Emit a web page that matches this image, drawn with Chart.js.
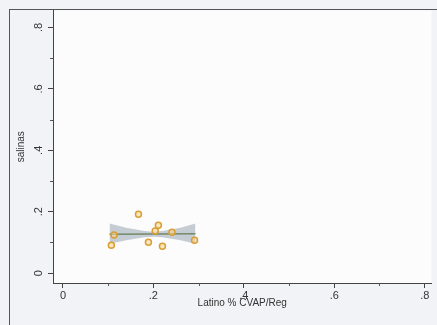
<!DOCTYPE html>
<html>
<head>
<meta charset="utf-8">
<script src="https://cdn.jsdelivr.net/npm/chart.js@4.4.1/dist/chart.umd.min.js"></script>
<style>
  html, body { margin: 0; padding: 0; background: #f2f3f6; }
  #wrap { position: relative; width: 437px; height: 325px; overflow: hidden; }
  #frame { position: absolute; left: 9px; top: 9px; width: 500px; height: 400px;
           border-left: 1px solid #555; border-top: 1px solid #555; }
  canvas { position: absolute; left: 0; top: 0; }
</style>
</head>
<body>
<div id="wrap">
  <div id="frame"></div>
  <canvas id="plot" width="437" height="325"></canvas>
</div>
<script>
// scatter points (Latino % CVAP/Reg vs salinas)
var pointsX = [0.107, 0.113, 0.167, 0.189, 0.204, 0.211, 0.220, 0.241, 0.291];
var pointsY = [0.091, 0.124, 0.192, 0.101, 0.137, 0.156, 0.088, 0.133, 0.107];

// fitted line
var fitX = [0.103, 0.293];
var fitY = [0.127, 0.128];

// confidence band
var bandX = [0.103, 0.14, 0.18, 0.20, 0.22, 0.26, 0.293];
var bandUpper = [0.162, 0.148, 0.137, 0.135, 0.137, 0.148, 0.162];
var bandLower = [0.096, 0.107, 0.117, 0.119, 0.117, 0.107, 0.096];

var majorTicks = [0, 0.2, 0.4, 0.6, 0.8];
var minorTicks = [0.1, 0.3, 0.5, 0.7];

function xy(xs, ys) {
  var out = [];
  for (var i in xs) out.push({x: xs[i], y: ys[i]});
  return out;
}

function tickLabel(v) {
  var n = Math.round(v * 10);
  if (n === 0) return "0";
  return "." + n;
}

// white plot region
var plotBg = {
  id: 'plotBg',
  beforeDraw: function(chart) {
    var a = chart.chartArea, c = chart.ctx;
    c.save();
    c.fillStyle = "#fcfcfd";
    c.fillRect(a.left, a.top, a.right - a.left, a.bottom - a.top);
    c.restore();
  }
};

var minorTickPlugin = {
  id: 'minorTicks',
  afterDraw: function(chart) {
    var c = chart.ctx;
    var xs = chart.scales.x, ys = chart.scales.y;
    c.save();
    c.strokeStyle = "#555";
    c.lineWidth = 1;
    c.beginPath();
    minorTicks.forEach(function(v) {
      var px = Math.round(xs.getPixelForValue(v)) + 0.5;
      c.moveTo(px, xs.top);
      c.lineTo(px, xs.top + 3);
      var py = Math.round(ys.getPixelForValue(v)) + 0.5;
      c.moveTo(ys.right, py);
      c.lineTo(ys.right - 3, py);
    });
    c.stroke();
    c.restore();
  }
};

var ctx = document.getElementById("plot");
var chart = new Chart(ctx, {
  type: 'scatter',
  data: {
    datasets: [
      {
        label: "salinas",
        data: xy(pointsX, pointsY),
        pointRadius: 3,
        pointBorderWidth: 1.5,
        borderColor: "rgba(218, 158, 50, 1)",
        backgroundColor: "rgba(245, 215, 150, 0.6)",
        order: 0
      },
      {
        label: "fit",
        data: xy(fitX, fitY),
        showLine: true,
        pointRadius: 0,
        borderColor: "rgba(115, 138, 105, 1)",
        borderWidth: 1.5,
        order: 1
      },
      {
        label: "upper",
        data: xy(bandX, bandUpper),
        showLine: true,
        pointRadius: 0,
        borderWidth: 0,
        borderColor: "rgba(175, 183, 192, 0.9)",
        backgroundColor: "rgba(180, 188, 198, 0.75)",
        fill: '+1',
        order: 2
      },
      {
        label: "lower",
        data: xy(bandX, bandLower),
        showLine: true,
        pointRadius: 0,
        borderWidth: 0,
        borderColor: "rgba(175, 183, 192, 0.9)",
        order: 3
      }
    ]
  },
  options: {
    responsive: false,
    animation: false,
    layout: { padding: { left: 10, top: 10, right: 0, bottom: 0 } },
    plugins: { legend: { display: false }, tooltip: { enabled: false } },
    scales: {
      x: {
        type: 'linear',
        min: -0.022,
        max: 0.815,
        afterBuildTicks: function(s) { s.ticks = majorTicks.map(function(v) { return {value: v}; }); },
        afterFit: function(s) { s.height = 42; },
        ticks: {
          autoSkip: false,
          maxRotation: 0,
          padding: 1,
          color: "#333",
          font: { family: "Liberation Sans", size: 11 },
          callback: function(v) { return tickLabel(v); }
        },
        grid: { drawOnChartArea: false, tickLength: 5, tickColor: "#444" },
        border: { color: "#444", width: 1 },
        title: {
          display: true,
          text: "Latino % CVAP/Reg",
          color: "#333",
          font: { family: "Liberation Sans", size: 10 },
          padding: { top: 0, bottom: 16 }
        }
      },
      y: {
        type: 'linear',
        min: -0.032,
        max: 0.855,
        afterBuildTicks: function(s) { s.ticks = majorTicks.map(function(v) { return {value: v}; }); },
        afterFit: function(s) { s.width = 43; },
        ticks: {
          autoSkip: false,
          minRotation: 90,
          maxRotation: 90,
          crossAlign: 'center',
          padding: 4,
          color: "#333",
          font: { family: "Liberation Sans", size: 11 },
          callback: function(v) { return tickLabel(v); }
        },
        grid: { drawOnChartArea: false, tickLength: 5, tickColor: "#444" },
        border: { color: "#444", width: 1 },
        title: {
          display: true,
          text: "salinas",
          color: "#333",
          font: { family: "Liberation Sans", size: 10 },
          padding: { top: 5, bottom: 0 }
        }
      }
    }
  },
  plugins: [plotBg, minorTickPlugin]
});
</script>
</body>
</html>
